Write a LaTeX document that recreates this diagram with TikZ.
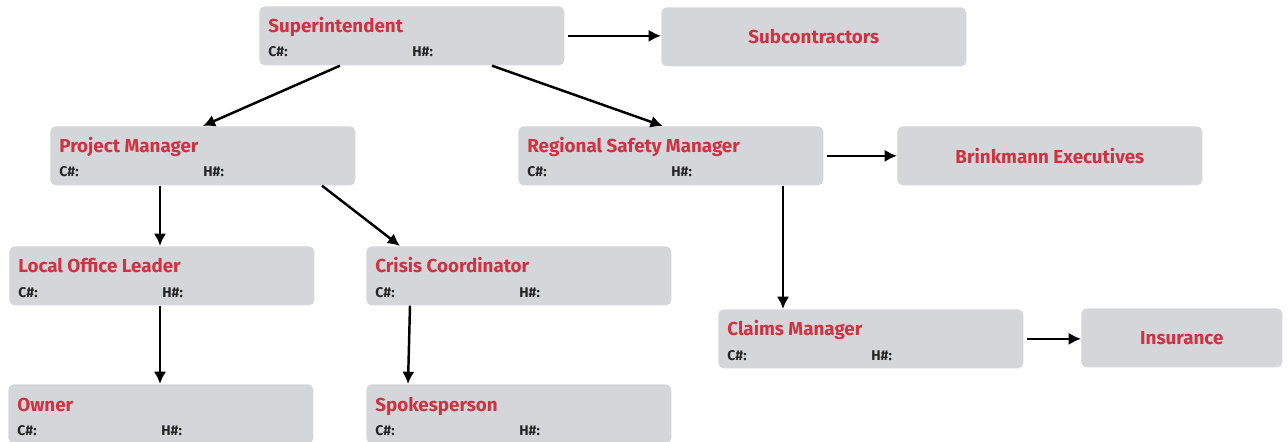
\documentclass[tikz,border=0pt]{standalone}
\usepackage{fontspec}
\setmainfont{Fira Sans}
\usetikzlibrary{calc,arrows.meta}
\definecolor{boxgray}{HTML}{D5D6D9}
\definecolor{titlered}{HTML}{CF3241}
\tikzset{>={Latex[length=7pt,width=7pt]}}

\begin{document}
\begin{tikzpicture}[x=0.02cm,y=-0.02cm,
  box/.style={fill=boxgray, rounded corners=3pt, minimum width=6.1cm, minimum height=1.18cm, inner sep=0pt, anchor=north west},
  ttl/.style={text=titlered, font=\fontsize{10.7}{12}\selectfont\bfseries, inner sep=0pt, anchor=base west},
  info/.style={text=black!85, font=\fontsize{8}{9}\selectfont\bfseries, inner sep=0pt, anchor=base west},
  link/.style={->, line width=1.4pt}]
\useasboundingbox (0,0) rectangle (1288,442);
% contact boxes
\foreach \nm/\x/\y/\ttltext in {sup/259/6/Superintendent, pm/50/126/Project Manager,
  rsm/518/126/Regional Safety Manager, lol/9/246/Local Office Leader,
  cc/366/246/Crisis Coordinator, cm/718/309/Claims Manager,
  own/8/384/Owner, spk/366/384/Spokesperson}{
  \node[box] (\nm) at (\x,\y) {};
  \node[ttl] (\nm-t) at (\x+9,\y+27) {\ttltext};
  \node[info] (\nm-c) at (\x+9,\y+51) {C\#:};
  \node[info] (\nm-h) at (\x+153,\y+51) {H\#:};
}
% plain boxes
\node[box, text=titlered, font=\fontsize{10.7}{12}\selectfont\bfseries] (sub) at (661,7) {Subcontractors};
\node[box, text=titlered, font=\fontsize{10.7}{12}\selectfont\bfseries] (be) at (897,126) {Brinkmann Executives};
\node[box, minimum width=4.02cm, text=titlered, font=\fontsize{10.7}{12}\selectfont\bfseries] (ins) at (1081,308) {Insurance};
% arrows
\draw[link, shorten <=2pt] (sup.east) -- (sup.east -| sub.west);
\draw[link] ($(sup.south west)+(81,0)$) -- (pm.north);
\draw[link] ($(sup.south west)+(233,0)$) -- ($(rsm.north)+(-8,0)$);
\draw[link] ($(pm.south west)+(110,0)$) -- ($(lol.north west)+(151,0)$);
\draw[link] ($(pm.south west)+(272,0)$) -- ($(cc.north west)+(34,0)$);
\draw[link, shorten <=2pt] (rsm.east) -- (rsm.east -| be.west);
\draw[link] ($(rsm.south west)+(265,0)$) -- ($(cm.north west)+(65,0)$);
\draw[link, shorten <=2pt] (cm.east) -- (cm.east -| ins.west);
\draw[link] ($(lol.south west)+(151,0)$) -- ($(own.north west)+(152,0)$);
\draw[link] ($(cc.south west)+(44,0)$) -- ($(spk.north west)+(42,0)$);
\end{tikzpicture}
\end{document}
